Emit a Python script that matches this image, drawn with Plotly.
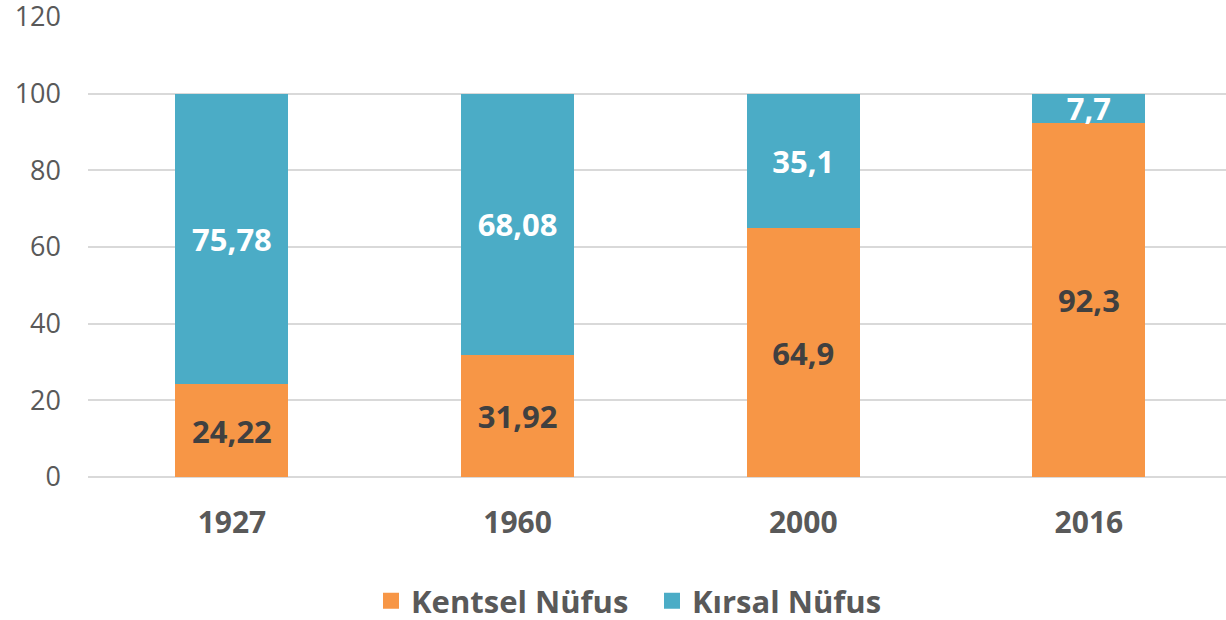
import plotly.graph_objects as go

years = ["1927", "1960", "2000", "2016"]
kentsel = [24.22, 31.92, 64.9, 92.3]
kirsal = [75.78, 68.08, 35.1, 7.7]
kentsel_labels = ["24,22", "31,92", "64,9", "92,3"]
kirsal_labels = ["75,78", "68,08", "35,1", "7,7"]
y_ticks = [0, 20, 40, 60, 80, 100, 120]

FONT = "Open Sans"
ORANGE = "#F79646"
BLUE = "#4BACC6"

fig = go.Figure()
fig.add_trace(go.Bar(
    x=years, y=kentsel, name="Kentsel Nüfus", showlegend=False,
    marker=dict(color=ORANGE, line=dict(width=0)),
    text=kentsel_labels, textposition="inside", insidetextanchor="middle",
    textfont=dict(family=FONT, size=31, color="#404040", weight="bold"),
    constraintext="none", hoverinfo="skip",
))
fig.add_trace(go.Bar(
    x=years, y=kirsal, name="Kırsal Nüfus", showlegend=False,
    marker=dict(color=BLUE, line=dict(width=0)),
    text=kirsal_labels, textposition="inside", insidetextanchor="middle",
    textfont=dict(family=FONT, size=31, color="#FFFFFF", weight="bold"),
    constraintext="none", hoverinfo="skip",
))
# legend entries with larger square swatches
for name, col in [("Kentsel Nüfus", ORANGE), ("Kırsal Nüfus", BLUE)]:
    fig.add_trace(go.Scatter(
        x=[None], y=[None], mode="markers", name=name,
        marker=dict(symbol="square", size=19, color=col, line=dict(width=0)),
        hoverinfo="skip",
    ))

fig.update_layout(
    barmode="stack",
    bargap=0.6044,
    width=1226, height=620,
    margin=dict(l=88, r=0, t=17, b=143, autoexpand=False),
    plot_bgcolor="white", paper_bgcolor="white",
    font=dict(family=FONT, color="#595959"),
    uniformtext=dict(minsize=30, mode="show"),
    showlegend=True,
    legend=dict(
        orientation="h", xref="container", x=371 / 1226, xanchor="left",
        y=-0.27, yanchor="middle",
        font=dict(family=FONT, size=31, color="#595959", weight="bold"),
        itemwidth=30, traceorder="normal", itemsizing="trace",
        entrywidth=236, entrywidthmode="pixels",
    ),
    xaxis=dict(
        range=[-0.504, 3.48],
        showgrid=False, zeroline=False, showline=False, ticks="",
        tickfont=dict(family=FONT, size=30, color="#595959", weight="bold"),
        ticklabelstandoff=25, automargin=False,
    ),
    yaxis=dict(
        range=[0, 120], tickvals=y_ticks, ticktext=[str(v) for v in y_ticks],
        showgrid=True, gridcolor="#D9D9D9", gridwidth=2,
        zeroline=True, zerolinecolor="#D9D9D9", zerolinewidth=2,
        showline=False, ticks="",
        tickfont=dict(family=FONT, size=27, color="#595959"),
        ticklabelstandoff=26, automargin=False, ticklabeloverflow="allow",
    ),
)

fig.write_html(
    "out.html",
    config={"displayModeBar": False},
    post_script="document.body.style.margin='0';document.body.style.overflow='hidden';",
)
